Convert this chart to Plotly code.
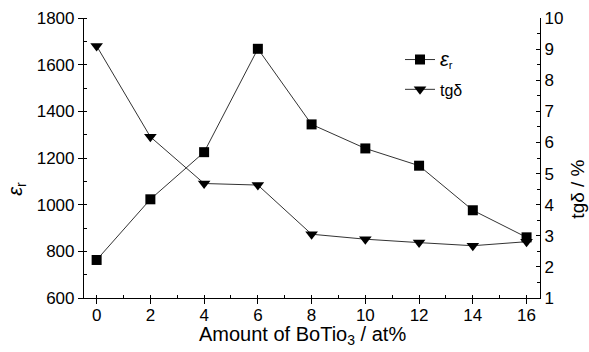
import plotly.graph_objects as go

amount = [0, 2, 4, 6, 8, 10, 12, 14, 16]
eps_r = [763, 1023, 1225, 1668, 1344, 1241, 1167, 976, 860]
tg_delta = [9.1, 6.18, 4.68, 4.63, 3.05, 2.89, 2.78, 2.68, 2.81]

x_ticks = [0, 2, 4, 6, 8, 10, 12, 14, 16]
left_ticks = [600, 800, 1000, 1200, 1400, 1600, 1800]
right_ticks = [1, 2, 3, 4, 5, 6, 7, 8, 9, 10]

FONT = "Liberation Sans, Arial, sans-serif"

fig = go.Figure()
fig.add_trace(go.Scatter(
    x=amount, y=eps_r, name='<span style="font-size:20px"><i>ε</i></span><sub>r</sub>',
    mode="lines+markers", legendgroup="a",
    line=dict(color="#333333", width=1),
    marker=dict(symbol="square", size=10, color="black"),
    yaxis="y"))
fig.add_trace(go.Scatter(
    x=amount, y=tg_delta, name="tgδ", mode="lines+markers", legendgroup="b",
    line=dict(color="#333333", width=1),
    marker=dict(symbol="triangle-down", size=11, color="black"),
    yaxis="y2"))

axis_common = dict(showline=True, linecolor="black", linewidth=1.2, showgrid=False,
                   zeroline=False, tickcolor="black", automargin=False,
                   tickfont=dict(size=17, color="black", family=FONT))

fig.update_layout(
    template="none",
    width=589, height=352,
    margin=dict(l=84, r=49, t=18, b=54, autoexpand=False),
    paper_bgcolor="white", plot_bgcolor="white",
    font=dict(family=FONT, color="black"),
    showlegend=True,
    legend=dict(x=0.693, y=0.912, xanchor="left", yanchor="top", bgcolor="rgba(0,0,0,0)",
                font=dict(size=16, family=FONT), tracegroupgap=6, itemwidth=30),
    xaxis=dict(range=[-0.47, 16.5], tickvals=x_ticks, ticks="outside", ticklen=5,
               ticklabelstandoff=-4,
               minor=dict(dtick=1, ticks="inside", ticklen=3, tickcolor="black"),
               **axis_common),
    yaxis=dict(range=[600, 1800], tickvals=left_ticks, ticks="outside", ticklen=5,
               minor=dict(dtick=100, ticks="inside", ticklen=3, tickcolor="black"),
               **axis_common),
    yaxis2=dict(range=[1, 10], tickvals=right_ticks, overlaying="y", side="right",
                ticks="inside", ticklen=4,
                minor=dict(dtick=0.5, ticks="inside", ticklen=3, tickcolor="black"),
                **axis_common),
    annotations=[
        dict(text="Amount of BoTio<sub>3</sub> / at%", xref="paper", yref="paper",
             x=0.48, y=-0.135, xanchor="center", yanchor="middle", showarrow=False,
             font=dict(size=20, family=FONT, color="black")),
        dict(text='<i>ε</i><sub>r</sub>', xref="paper", yref="paper",
             x=-0.147, y=0.39, xanchor="center", yanchor="middle", showarrow=False,
             textangle=-90, font=dict(size=20, family=FONT, color="black")),
        dict(text="tgδ / %", xref="paper", yref="paper",
             x=1.083, y=0.39, xanchor="center", yanchor="middle", showarrow=False,
             textangle=-90, font=dict(size=19, family=FONT, color="black")),
    ],
)

fig.write_html("out.html", config={"displayModeBar": False},
               post_script="document.body.style.margin='0';document.body.style.overflow='hidden';")
